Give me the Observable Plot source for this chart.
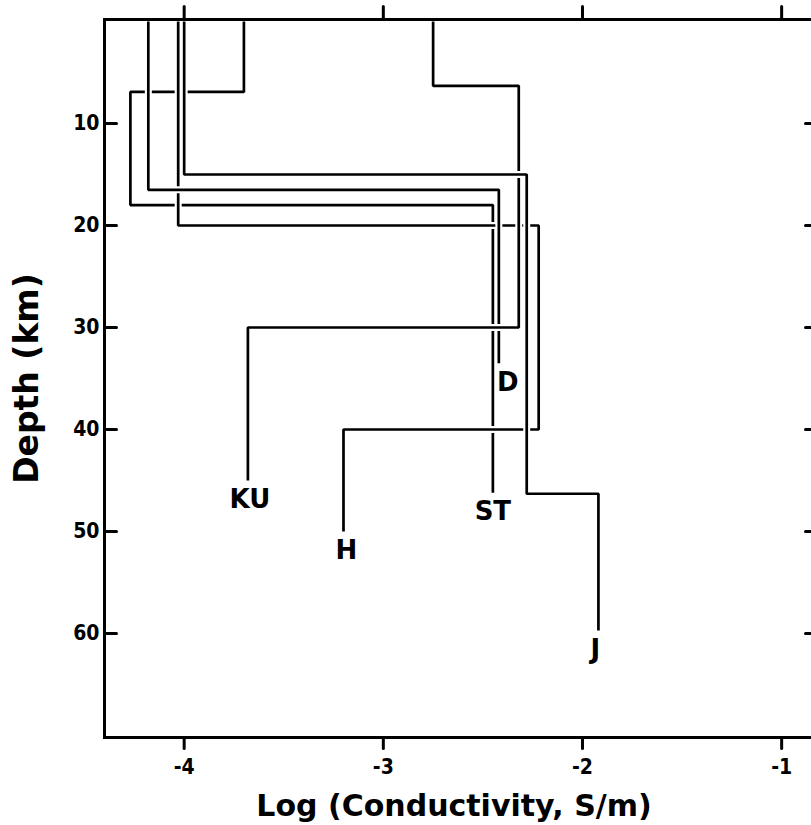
<!DOCTYPE html>
<html>
<head>
<meta charset="utf-8">
<script src="https://cdn.jsdelivr.net/npm/d3@7"></script>
<script src="https://cdn.jsdelivr.net/npm/@observablehq/plot@0.6"></script>
<style>
  html, body { margin: 0; padding: 0; background: #fff; overflow: hidden; }
  g[aria-label="x-axis tick label"], g[aria-label="y-axis tick label"], g[aria-label="station"] { font-stretch: condensed; }
</style>
</head>
<body>
<div id="chart"></div>
<script>
// Axis ticks and titles
const xTicks = [-4, -3, -2, -1];
const yTicks = [10, 20, 30, 40, 50, 60];
const xTitle = "Log (Conductivity, S/m)";
const yTitle = "Depth (km)";

// Stations, in drawing order (later ones pass over earlier ones)
const stations = ["ST", "H", "D", "KU", "J"];

// Layered models: log10 conductivity per layer, and layer boundary depths (km)
const stSigma = [-3.70, -4.27, -2.45];
const stDepth = [0, 6.9, 18, 46.2];
const hSigma  = [-4.03, -2.22, -3.20];
const hDepth  = [0, 20, 40, 50];
const dSigma  = [-4.18, -2.42];
const dDepth  = [0, 16.5, 33.5];
const kuSigma = [-2.75, -2.32, -3.68];
const kuDepth = [0, 6.3, 30, 45];
const jSigma  = [-4.00, -2.28, -1.92];
const jDepth  = [0, 15, 46.3, 59.7];

const sigmaOf = {ST: stSigma, H: hSigma, D: dSigma, KU: kuSigma, J: jSigma};
const depthOf = {ST: stDepth, H: hDepth, D: dDepth, KU: kuDepth, J: jDepth};

// vertices for a step-before curve: (sigma of layer, top of layer) + final bottom
const steps = stations.flatMap(name => {
  const s = sigmaOf[name], d = depthOf[name];
  return d.map((depth, i) => ({name, sigma: s[Math.min(i, s.length - 1)], depth}));
});
const ends = stations.map(name => {
  const s = sigmaOf[name], d = depthOf[name];
  return {name, sigma: s[s.length - 1], depth: d[d.length - 1]};
});

const labelDx = {ST: 0, H: 3, D: 9, KU: 2, J: -3};

const sans = "'DejaVu Sans', sans-serif";
const tickShape = { draw(context, l) { context.moveTo(0, 0); context.lineTo(0, -l); } };
const lineStyle = {curve: "step-before", strokeLinecap: "butt", strokeLinejoin: "miter"};
const tickStyle = {anchor: "start", shape: tickShape, stroke: "black", strokeWidth: 3};

const chart = Plot.plot({
  width: 830,
  height: 825,
  marginLeft: 104,
  marginRight: 13,
  marginTop: 19,
  marginBottom: 88,
  style: {background: "white", maxWidth: "none", overflow: "visible", fontFamily: sans},
  x: {domain: [-4.4, -0.82]},
  y: {domain: [-0.2, 70.2], reverse: true},
  marks: [
    ...stations.flatMap(name => {
      const pts = steps.filter(p => p.name === name);
      return [
        Plot.line(pts, {x: "sigma", y: "depth", stroke: "white", strokeWidth: 7, ...lineStyle}),
        Plot.line(pts, {x: "sigma", y: "depth", stroke: "black", strokeWidth: 2.7, ...lineStyle})
      ];
    }),
    Plot.frame({stroke: "black", strokeWidth: 3}),
    Plot.vector(yTicks, {y: d => d, frameAnchor: "left", rotate: 90, length: 12, ...tickStyle}),
    Plot.vector(yTicks, {y: d => d, frameAnchor: "right", rotate: -90, length: 12, ...tickStyle}),
    Plot.vector(xTicks, {x: d => d, frameAnchor: "top", rotate: 0, length: 13, ...tickStyle}),
    Plot.vector(xTicks, {x: d => d, frameAnchor: "bottom", rotate: 180, length: 11, ...tickStyle}),
    Plot.axisX({ticks: xTicks, anchor: "bottom", tickSize: 0, tickPadding: 22, tickFormat: d => String(d),
      label: null, fontSize: 21, fontWeight: "bold", fontFamily: sans}),
    Plot.axisY({ticks: yTicks, anchor: "left", tickSize: 0, tickPadding: 5, tickFormat: d => String(d),
      label: null, fontSize: 21, fontWeight: "bold", fontFamily: sans}),
    ...ends.map(e => Plot.text([e], {x: "sigma", y: "depth", text: "name", dy: 19, dx: labelDx[e.name],
      lineAnchor: "middle", fontSize: 26, fontWeight: "bold", fontFamily: sans, ariaLabel: "station"})),
    Plot.text([xTitle], {text: d => d, frameAnchor: "bottom", dx: -7, dy: 69, lineAnchor: "middle",
      textAnchor: "middle", fontSize: 30, fontWeight: "bold", fontFamily: sans}),
    Plot.text([yTitle], {text: d => d, frameAnchor: "left", dx: -77, rotate: -90, lineAnchor: "middle",
      textAnchor: "middle", fontSize: 33, fontWeight: "bold", fontFamily: sans})
  ]
});
document.getElementById("chart").appendChild(chart);
</script>
</body>
</html>
